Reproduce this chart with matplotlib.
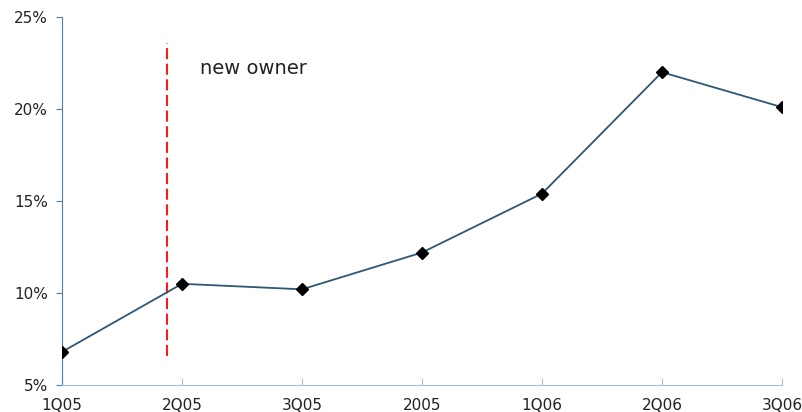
import numpy as np
import matplotlib.pyplot as plt
from matplotlib.ticker import FuncFormatter

plt.rcParams['font.family'] = ['DejaVu Sans']

quarters = ['1Q05', '2Q05', '3Q05', '2005', '1Q06', '2Q06', '3Q06']
share = [6.8, 10.5, 10.2, 12.2, 15.4, 22.0, 20.1]
yticks = [5, 10, 15, 20, 25]

# position of the ownership change marker
owner_x = 0.875
owner_y = [6.6, 23.6]

fig = plt.figure(figsize=(8.03, 4.12), dpi=100)
ax = fig.add_axes([62/803, 1-385/412, 720/803, 368/412])

x = np.arange(len(quarters))
ax.plot(x, share, color='#2f5673', lw=1.3, marker='D', ms=6,
        mfc='black', mec='black', zorder=3)
ax.plot([owner_x, owner_x], owner_y, color='#ff1a1a', lw=1.5,
        dashes=(5.3, 2.2))
ax.text(1.15, 22.2, 'new owner', fontsize=14, color='#222222',
        va='center', ha='left')

ax.set_xlim(0, 6)
ax.set_ylim(5, 25)
ax.set_xticks(x)
ax.set_xticklabels(quarters)
ax.set_yticks(yticks)
ax.yaxis.set_major_formatter(FuncFormatter(lambda v, p: '%d%%' % v))

for s in ['top', 'right']:
    ax.spines[s].set_visible(False)
ax.spines['left'].set_color('#4f7fa8')
ax.spines['bottom'].set_color('#a8bedc')
ax.tick_params(axis='y', direction='out', length=4, color='#4f7fa8',
               labelsize=11, pad=6, labelcolor='#222222')
ax.tick_params(axis='x', direction='in', length=5, color='#a8bedc',
               labelsize=11, pad=9, labelcolor='#222222')

fig.savefig('out.png', dpi=100)
